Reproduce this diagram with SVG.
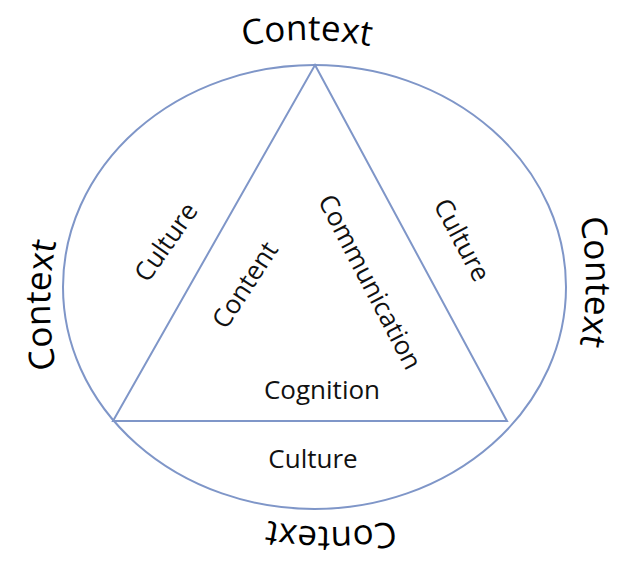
<svg xmlns="http://www.w3.org/2000/svg" width="621" height="565" viewBox="0 0 621 565">
<style>
.shape{fill:none;stroke:#7F96C8;stroke-width:2}
.lbl{font-family:"Open Sans","Liberation Sans",sans-serif;font-size:26px;fill:#111;text-anchor:middle}
.ctx{font-family:"Open Sans","Liberation Sans",sans-serif;font-size:35px;fill:#000;text-anchor:middle}
</style>
<defs>
<path id="arcTop" d="M98.1,116 A325,325 0 0 1 515.9,116"/>
<path id="arcLeft" d="M166.1,554 A325,325 0 0 1 166.1,56"/>
<path id="arcRight" d="M469.9,33 A325,325 0 0 1 469.9,531"/>
<path id="arcBottom" d="M539.9,451 A325,325 0 0 1 122.1,451"/>
</defs>
<rect width="621" height="565" fill="#fff"/>
<g id="connectors">
<ellipse class="shape" cx="314.5" cy="287" rx="251.5" ry="222"/>
<polygon class="shape" points="315,65 507,421 113,421" stroke-linejoin="miter"/>
</g>
<g id="context-top"><text class="ctx"><textPath href="#arcTop" startOffset="50%">Context</textPath></text></g>
<g id="context-left"><text class="ctx"><textPath href="#arcLeft" startOffset="50%">Context</textPath></text></g>
<g id="context-right"><text class="ctx"><textPath href="#arcRight" startOffset="50%">Context</textPath></text></g>
<g id="context-bottom"><text class="ctx"><textPath href="#arcBottom" startOffset="50%">Context</textPath></text></g>
<g id="culture-left"><text class="lbl" transform="translate(166,242) rotate(-55)" y="9">Culture</text></g>
<g id="content"><text class="lbl" transform="translate(245,285) rotate(-57)" y="9">Content</text></g>
<g id="communication"><text class="lbl" transform="translate(370,282) rotate(62.5)" y="9">Communication</text></g>
<g id="culture-right"><text class="lbl" transform="translate(462,240) rotate(62)" y="9">Culture</text></g>
<g id="cognition"><text class="lbl" x="322" y="399">Cognition</text></g>
<g id="culture-bottom"><text class="lbl" x="313" y="468">Culture</text></g>
</svg>
